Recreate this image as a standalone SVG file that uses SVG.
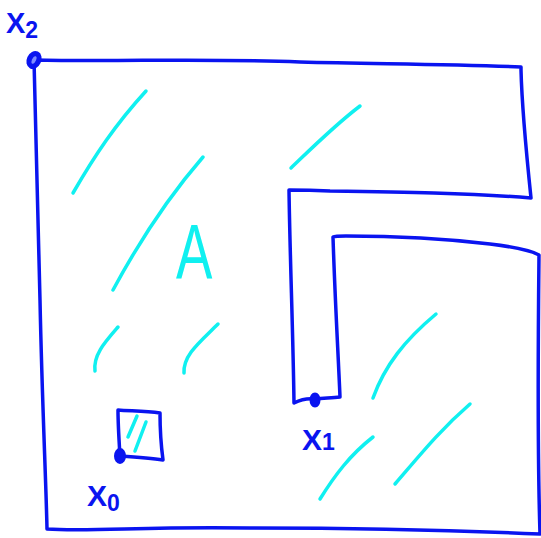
<svg xmlns="http://www.w3.org/2000/svg" width="541" height="538" viewBox="0 0 541 538">
<style>
.b{fill:none;stroke:#0a14f0;stroke-width:3.5;stroke-linecap:round;stroke-linejoin:round}
.c{fill:none;stroke:#10f0f0;stroke-width:3.5;stroke-linecap:round;stroke-linejoin:round}
.lb{font-family:"Liberation Sans",Arial,sans-serif;fill:#0a14f0;font-weight:bold}
.dot{fill:#0a14f0;stroke:#0a14f0;stroke-width:2}
</style>
<rect width="541" height="538" fill="#ffffff"/>
<g id="outline">
<path class="b" d="M34,60 C120,62 200,58 300,62 C380,64 450,64 521,67 L521,70 C522,110 526,150 531,198 C470,193 400,192 330,191 C310,190 300,190 289,190 C290,260 293,330 294,403 C300,400 308,398 315,399 C325,398 332,398 340,397 C338,350 335,300 333,237 C335,236 340,236 346,236 C400,236 440,238 490,244 C515,247 530,250 539,255 C538,350 537,440 540,534 C450,530 350,528 250,528 C150,526 90,532 47,529 C46,480 42,400 40,300 C38,200 36,120 34,60 Z"/>
</g>
<g id="region-A">
<path class="c" d="M73,193 C95,155 115,125 146,91"/>
<path class="c" d="M113,290 C140,240 170,195 203,157"/>
<path class="c" d="M291,168 C315,145 335,125 360,106"/>
<path class="c" d="M95,371 C93,355 105,342 118,327"/>
<path class="c" d="M184,373 C183,355 200,342 218,324"/>
<path class="c" d="M373,398 C385,365 405,340 436,314"/>
<path class="c" d="M320,499 C335,475 350,455 373,437"/>
<path class="c" d="M395,484 C420,455 440,430 470,404"/>
<text x="0" y="0" transform="translate(176,279) scale(0.7,1)" font-family="Liberation Sans, Arial, sans-serif" font-size="78" fill="#10f0f0">A</text>
</g>
<g id="x0-box">
<path class="b" d="M118,410 C130,411 145,411 160,413 C160,428 161,445 163,460 C150,458 135,457 120,456 C119,440 118,425 118,410 Z"/>
<path class="c" d="M137,416 L128,437"/>
<path class="c" d="M146,422 L135,451"/>
</g>
<g id="x0">
<ellipse class="dot" cx="120" cy="456" rx="5" ry="7"/>
<text class="lb" x="87" y="506" font-size="30">X<tspan font-size="23" dy="5">0</tspan></text>
</g>
<g id="x1">
<ellipse class="dot" cx="315" cy="400" rx="4.5" ry="6.5"/>
<text class="lb" x="302" y="450" font-size="30">X<tspan font-size="23" dy="0">1</tspan></text>
</g>
<g id="x2">
<ellipse cx="34" cy="60" rx="6" ry="8" fill="#0a14f0" stroke="#0a14f0" stroke-width="2.5" transform="rotate(25 34 60)"/>
<ellipse cx="34" cy="60" rx="2" ry="4" fill="#7f8cff" transform="rotate(25 34 60)"/>
<text class="lb" x="6" y="33" font-size="29">X<tspan font-size="23" dy="5">2</tspan></text>
</g>
</svg>
